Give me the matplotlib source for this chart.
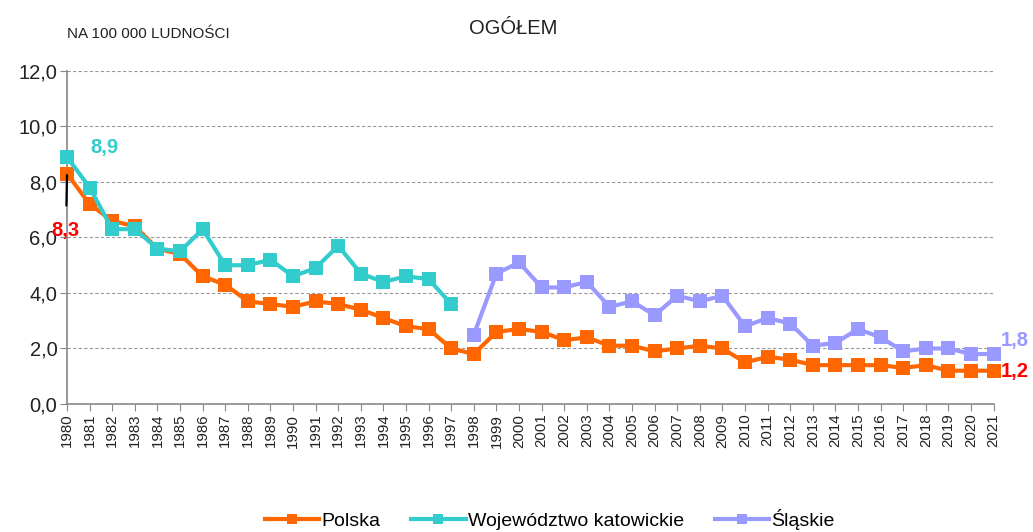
import matplotlib
matplotlib.use("Agg")
import matplotlib.pyplot as plt
from matplotlib.ticker import FuncFormatter

plt.rcParams['font.family'] = ['Liberation Sans', 'DejaVu Sans']

years = list(range(1980, 2022))
polska = [8.3, 7.2, 6.6, 6.4, 5.6, 5.4, 4.6, 4.3, 3.7, 3.6, 3.5, 3.7, 3.6, 3.4, 3.1, 2.8, 2.7, 2.0,
          1.8, 2.6, 2.7, 2.6, 2.3, 2.4, 2.1, 2.1, 1.9, 2.0, 2.1, 2.0, 1.5, 1.7, 1.6, 1.4, 1.4, 1.4,
          1.4, 1.3, 1.4, 1.2, 1.2, 1.2]
kat_years = list(range(1980, 1998))
katowickie = [8.9, 7.8, 6.3, 6.3, 5.6, 5.5, 6.3, 5.0, 5.0, 5.2, 4.6, 4.9, 5.7, 4.7, 4.4, 4.6, 4.5, 3.6]
sl_years = list(range(1998, 2022))
slaskie = [2.5, 4.7, 5.1, 4.2, 4.2, 4.4, 3.5, 3.7, 3.2, 3.9, 3.7, 3.9, 2.8, 3.1, 2.9, 2.1, 2.2, 2.7,
           2.4, 1.9, 2.0, 2.0, 1.8, 1.8]
labels = ["Polska", "Województwo katowickie", "Śląskie"]
colors = ["#FF6600", "#33CCCC", "#9999FF"]

fig = plt.figure(figsize=(10.33, 5.32), dpi=100)
ax = fig.add_axes([0.0649, 0.2406, 0.897, 0.626])

kw = dict(lw=3.0, marker='s', markersize=9.8, markeredgewidth=0, clip_on=False)
ax.plot(years, polska, color=colors[0], label=labels[0], zorder=3, **kw)
ax.plot(kat_years, katowickie, color=colors[1], label=labels[1], zorder=4, **kw)
ax.plot(sl_years, slaskie, color=colors[2], label=labels[2], zorder=4, **kw)

ax.set_xlim(1980, 2021)
ax.set_ylim(0, 12)
ax.set_yticks([0, 2, 4, 6, 8, 10, 12])
ax.yaxis.set_major_formatter(FuncFormatter(lambda v, p: f"{v:.1f}".replace('.', ',')))
ax.set_xticks(years)
ax.set_xticklabels([str(y) for y in years], rotation=90, fontsize=10.8)
ax.tick_params(axis='y', labelsize=14.5, length=5, color='#888888', pad=2)
ax.tick_params(axis='x', length=5, color='#888888', pad=2)
ax.grid(axis='y', color='#999999', linestyle=(0, (3, 2)), lw=0.8)
ax.set_axisbelow(True)
for s in ['top', 'right']:
    ax.spines[s].set_visible(False)
for s in ['left', 'bottom']:
    ax.spines[s].set_color('#888888')
    ax.spines[s].set_linewidth(1.2)
for lbl in ax.get_yticklabels() + ax.get_xticklabels():
    lbl.set_color('#222222')

# annotations
ax.annotate("8,9", xy=(kat_years[0], katowickie[0]), xytext=(1981.65, 9.25), color=colors[1],
            fontsize=14.5, fontweight='bold', ha='center', va='center')
ax.annotate("8,3", xy=(years[0], polska[0]), xytext=(1979.95, 6.26), color='#FF0000',
            fontsize=14.5, fontweight='bold', ha='center', va='center',
            arrowprops=dict(arrowstyle='-', color='black', lw=1.6, shrinkA=9, shrinkB=1))
ax.text(2021.3, 2.3, "1,8", color=colors[2], fontsize=14.5, fontweight='bold',
        ha='left', va='center', clip_on=False)
ax.text(2021.3, 1.18, "1,2", color='#FF0000', fontsize=14.5, fontweight='bold',
        ha='left', va='center', clip_on=False)

fig.text(0.497, 0.936, "OGÓŁEM", fontsize=14.5, ha='center', va='baseline', color='#222222')
fig.text(0.065, 0.928, "NA 100 000 LUDNOŚCI", fontsize=11, ha='left', va='baseline', color='#222222')

leg = fig.legend(loc='center', bbox_to_anchor=(0.532, 0.023), ncol=3, frameon=False,
                 fontsize=14, handlelength=2.8, columnspacing=1.6, handletextpad=0.1,
                 markerscale=0.8)

fig.savefig("out.png", dpi=100)
